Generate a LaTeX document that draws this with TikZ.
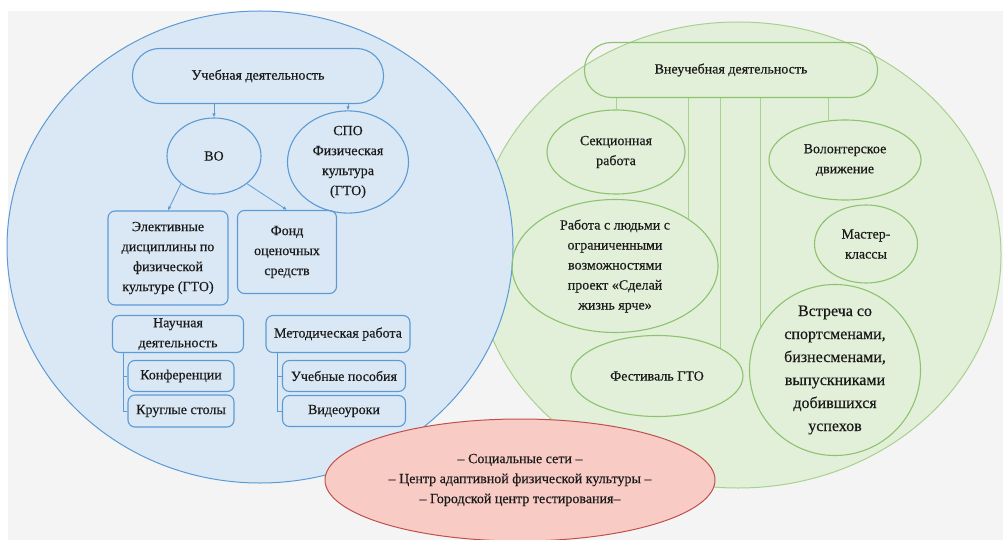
\documentclass[tikz,border=0pt]{standalone}
\usepackage{fontspec}
\setmainfont{Liberation Serif}[FakeBold=0.4]
\usetikzlibrary{shapes.geometric,arrows.meta}
\definecolor{bluefill}{HTML}{DAE8F5}
\definecolor{blueline}{HTML}{5B9BD5}
\definecolor{greenfill}{HTML}{E2F0D9}
\definecolor{greenline}{HTML}{A9D18E}
\definecolor{greenedge}{HTML}{8DC26F}
\definecolor{redfill}{HTML}{F8CBC5}
\definecolor{redline}{HTML}{C0504D}
\definecolor{backgray}{HTML}{F4F4F4}
\definecolor{textgray}{HTML}{1A1A1A}
\begin{document}
\begin{tikzpicture}[x=1pt,y=-1pt,
			font=\fontsize{14}{20}\selectfont,text=textgray,
			zone node/.style={ellipse,line width=1pt,inner sep=0pt},
			blue oval/.style={ellipse,draw=blueline,line width=1.1pt,inner sep=0pt,align=center},
			blue box/.style={rectangle,rounded corners=7pt,draw=blueline,line width=1.1pt,inner sep=0pt,align=center},
			green oval/.style={ellipse,draw=greenedge,line width=1.1pt,inner sep=0pt,align=center},
			blue link/.style={-{Latex[length=4pt,width=3.5pt]},blueline,line width=0.8pt},
			tree link/.style={blueline,line width=0.8pt},
			green link/.style={greenline,line width=0.9pt}
			]

			\useasboundingbox (0,0) rectangle (1003,540);
			\fill[white] (0,0) rectangle (1003,540);
			\fill[backgray] (8,11) rectangle (1003,540);

			% three zones
			\node[zone node,draw=greenline,fill=greenfill,minimum width=526,minimum height=466] at (738,255) (out) {};
			\node[zone node,draw=blueline,fill=bluefill,minimum width=506,minimum height=472] at (260,247) (study) {};

			% study side
			\node[blue box,rounded corners=27pt,minimum width=251,minimum height=55] at (258,76) (ud) {Учебная деятельность};
			\node[blue oval,minimum width=94,minimum height=76] at (214,156) (vo) {ВО};
			\node[blue oval,minimum width=121,minimum height=91] at (348,162) (spo) {СПО\\Физическая\\культура\\(ГТО)};
			\node[blue box,minimum width=120,minimum height=94] at (168,258) (elect) {Элективные\\дисциплины по\\физической\\культуре (ГТО)};
			\node[blue box,minimum width=99,minimum height=83] at (287,252) (fond) {Фонд\\оценочных\\средств};

			\draw[blue link] (vo.north |- ud.south) -- (vo.north);
			\draw[blue link] (spo.north |- ud.south) -- (spo.north);
			\draw[blue link] (vo.220) -- (elect.north);
			\draw[blue link] (vo.320) -- (fond.north);

			\node[blue box,minimum width=131,minimum height=37] at (178,334) (nauch) {Научная\\деятельность};
			\node[blue box,minimum width=106,minimum height=31] at (181,376) (konf) {Конференции};
			\node[blue box,minimum width=106,minimum height=32] at (181,411) (krug) {Круглые столы};
			\coordinate (nauch stem) at ([xshift=11pt]nauch.south west);
			\draw[tree link] (nauch stem) |- (konf.west) (nauch stem) |- (krug.west);

			\node[blue box,minimum width=144,minimum height=37] at (338,334) (metod) {Методическая работа};
			\node[blue box,minimum width=123,minimum height=31] at (344,376) (posob) {Учебные пособия};
			\node[blue box,minimum width=123,minimum height=31] at (344,411) (video) {Видеоуроки};
			\coordinate (metod stem) at ([xshift=12pt]metod.south west);
			\draw[tree link] (metod stem) |- (posob.west) (metod stem) |- (video.west);

			% out of study side
			\node[green oval,rectangle,rounded corners=27pt,minimum width=293,minimum height=55] at (731,70) (vud) {Внеучебная деятельность};
			\node[green oval,minimum width=138,minimum height=84] at (616,152) (sek) {Секционная\\работа};
			\node[green oval,minimum width=152,minimum height=80] at (845,160) (vol) {Волонтерское\\движение};
			\node[green oval,minimum width=206,minimum height=133] at (615,266) (rab) {Работа с людьми с\\ограниченными\\возможностями\\проект «Сделай\\жизнь ярче»};
			\node[green oval,minimum width=103,minimum height=78] at (866,244) (mast) {Мастер-\\классы};
			\node[green oval,minimum width=172,minimum height=81] at (657,376) (fest) {Фестиваль ГТО};
			\node[green oval,circle,minimum size=171,font=\fontsize{16}{23}\selectfont] at (835,370) (vstr) {Встреча со\\спортсменами,\\бизнесменами,\\выпускниками\\добившихся\\успехов};

			\draw[green link] (sek.north |- vud.south) -- (sek.north);
			\draw[green link] (rab.33 |- vud.south) -- (rab.33);
			\draw[green link] (fest.24 |- vud.south) -- (fest.24);
			\draw[green link] (vstr.150 |- vud.south) -- (vstr.150);
			\draw[green link] (vol.113 |- vud.south) -- (vol.113);

			% partners
			\node[zone node,draw=redline,fill=redfill,minimum width=390,minimum height=122,align=center] at (520,480) (part) {– Социальные сети –\\– Центр адаптивной физической культуры –\\– Городской центр тестирования–};
		\end{tikzpicture}
\end{document}
